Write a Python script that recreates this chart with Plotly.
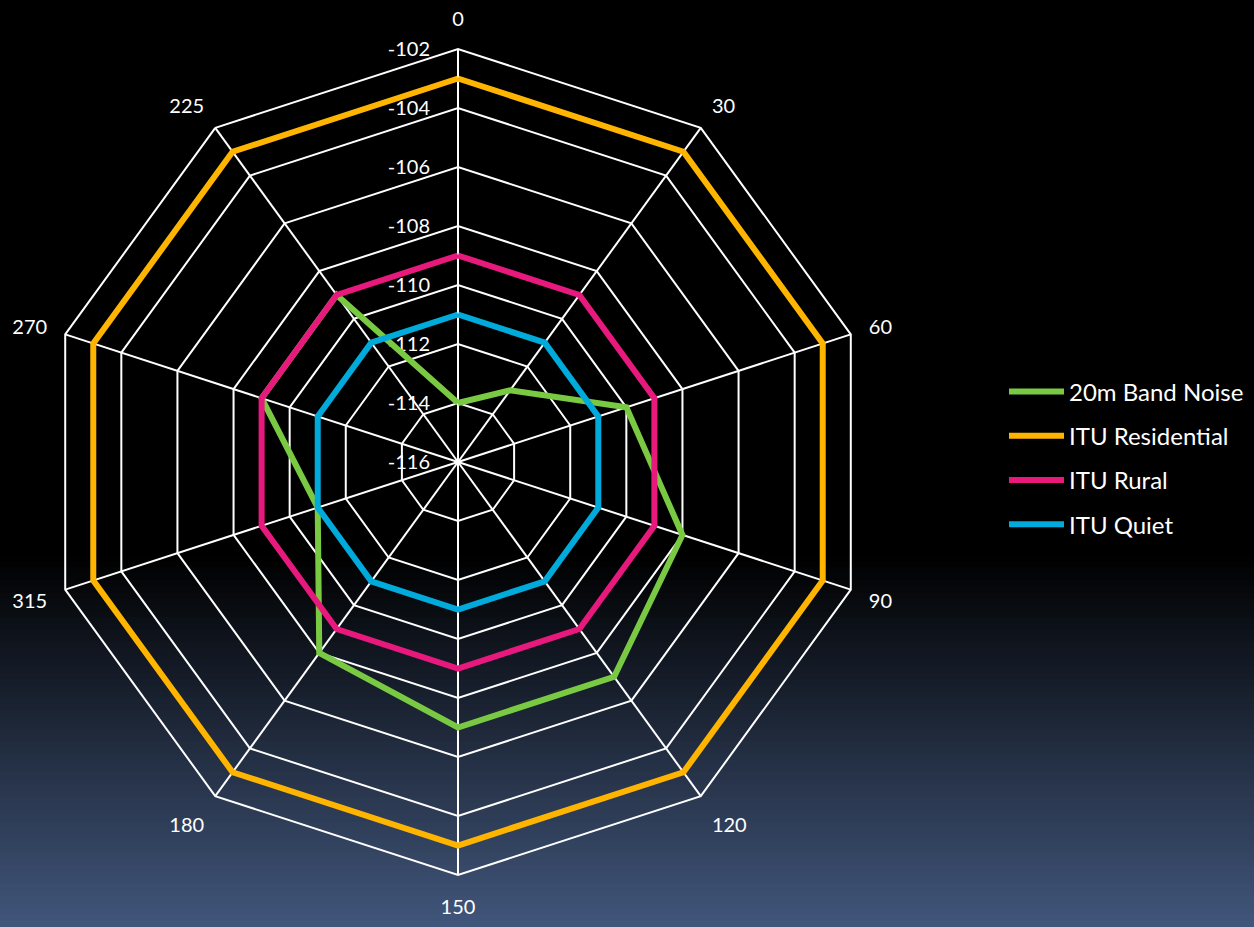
import plotly.graph_objects as go

categories = ["0", "30", "60", "90", "120", "150", "180", "315", "270", "225"]
band_noise = [-114, -113, -110, -108, -107, -107, -108, -111, -109, -109]
itu_residential = [-103] * 10
itu_rural = [-109] * 10
itu_quiet = [-111] * 10
radial_ticks = [-116, -114, -112, -110, -108, -106, -104, -102]

series = [
    ("20m Band Noise", band_noise, "#7AC943"),
    ("ITU Residential", itu_residential, "#FFB400"),
    ("ITU Rural", itu_rural, "#E8197D"),
    ("ITU Quiet", itu_quiet, "#00AADB"),
]

fig = go.Figure()
for name, vals, col in series:
    fig.add_trace(go.Scatterpolar(
        r=vals + [vals[0]], theta=categories + [categories[0]],
        mode="lines", name=name, legendgroup=name,
        line=dict(color=col, width=6),
    ))

# background gradient (black to slate blue at the bottom)
W, H = 1254, 927
shapes = []
start_px = 555
n = 60
top_c = (0, 0, 0)
bot_c = (0x41, 0x56, 0x7B)
shapes.append(dict(type="rect", xref="paper", yref="paper", x0=0, x1=1,
                   y0=(H - start_px) / H, y1=1, fillcolor="black",
                   line=dict(width=0), layer="below"))
for i in range(n):
    y_top = start_px + (H - start_px) * i / n
    y_bot = start_px + (H - start_px) * (i + 1) / n
    t = (i + 0.5) / n
    c = tuple(int(round(top_c[k] + (bot_c[k] - top_c[k]) * t)) for k in range(3))
    shapes.append(dict(type="rect", xref="paper", yref="paper", x0=0, x1=1,
                       y0=(H - y_bot) / H - 0.001, y1=(H - y_top) / H,
                       fillcolor="rgb(%d,%d,%d)" % c, line=dict(width=0),
                       layer="below"))

cx, cy, R = 458, 462, 413
font_family = "Lato, Open Sans, sans-serif"
fig.update_layout(
    width=W, height=H,
    margin=dict(l=0, r=0, t=0, b=0),
    paper_bgcolor="black",
    shapes=shapes,
    font=dict(family=font_family, color="white", size=20),
    polar=dict(
        domain=dict(x=[(cx - R) / W, (cx + R) / W],
                    y=[(H - cy - R) / H, (H - cy + R) / H]),
        bgcolor="rgba(0,0,0,0)",
        gridshape="linear",
        radialaxis=dict(
            range=[-116, -102], tickvals=radial_ticks,
            ticktext=[str(v) for v in radial_ticks],
            angle=90, tickangle=90, side="counterclockwise",
            showline=True, linecolor="white", linewidth=2,
            gridcolor="white", gridwidth=2,
            ticks="outside", ticklen=20, tickcolor="rgba(0,0,0,0)",
            tickfont=dict(size=20, color="white"),
            layer="below traces",
        ),
        angularaxis=dict(
            categoryorder="array", categoryarray=categories,
            direction="clockwise", rotation=90,
            showline=True, linecolor="white", linewidth=2,
            gridcolor="white", gridwidth=2,
            ticks="outside", ticklen=14, tickcolor="rgba(0,0,0,0)",
            tickfont=dict(size=20, color="white"),
            layer="below traces",
        ),
    ),
    legend=dict(
        x=1004 / W, y=(H - 458) / H, xanchor="left", yanchor="middle",
        font=dict(size=24, color="white"),
        bgcolor="rgba(0,0,0,0)", tracegroupgap=10, itemwidth=55,
    ),
)

fig.write_html("out.html")
